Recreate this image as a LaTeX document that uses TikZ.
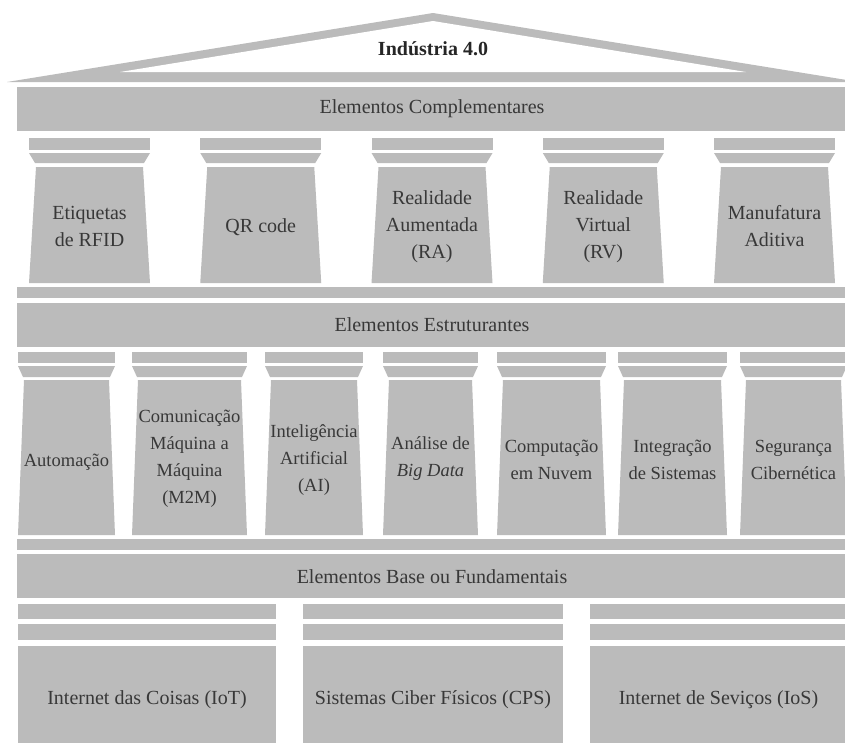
\documentclass[tikz,border=0pt]{standalone}
\usepackage{fontspec}
\setmainfont{Liberation Serif}
\definecolor{pil}{HTML}{BBBBBB}
\definecolor{ink}{HTML}{383838}
\begin{document}
\begin{tikzpicture}[x=1pt,y=-1pt,
  stone/.style={fill=pil},
  lbl/.style={text=ink, font=\fontsize{20}{27}\selectfont, align=center, inner sep=0pt},
  lblsm/.style={text=ink, font=\fontsize{18.5}{27}\selectfont, align=center, inner sep=0pt}]
\useasboundingbox (0,0) rectangle (845,742);
\clip (0,0) rectangle (845,742);
% roof
\fill[stone] (7,82) -- (433,13) -- (859,82) -- cycle;
\fill[white] (120,72) -- (433,21) -- (746,72) -- cycle;
\node[lbl, font=\bfseries\fontsize{20}{27}\selectfont, text=black!85] (title) at (433,49) {Indústria 4.0};
% top entablature
\fill[stone] (17,87) rectangle (847,131);
\node[lbl] (ec) at (432,109) {Elementos Complementares};
% top columns
\foreach \i in {0,...,4}{
  \pgfmathsetmacro{\xa}{29+171.25*\i}
  \pgfmathsetmacro{\xb}{\xa+121}
  \fill[stone] (\xa,138) rectangle (\xb,150);
  \fill[stone] (\xa,153) -- (\xb,153) -- (\xb-6,163) -- (\xa+6,163) -- cycle;
  \fill[stone] (\xa+7,167) -- (\xb-7,167) -- (\xb,283) -- (\xa,283) -- cycle;
}
\node[lbl] (c1) at (89.5,226.5) {Etiquetas\\de RFID};
\node[lbl] (c2) at (260.75,227) {QR code};
\node[lbl] (c3) at (432,227) {Realidade\\Aumentada\\(RA)};
\node[lbl] (c4) at (603.25,227) {Realidade\\Virtual\\(RV)};
\node[lbl] (c5) at (774.5,226.5) {Manufatura\\Aditiva};
% middle entablature
\fill[stone] (17,287) rectangle (847,298);
\fill[stone] (17,303) rectangle (847,347);
\node[lbl] (es) at (432,325) {Elementos Estruturantes};
% middle columns
\foreach \xa/\xb in {18/115,132/247,265/363,383/478,497/606,618/727,740/847}{
  \fill[stone] (\xa,352) rectangle (\xb,363);
  \fill[stone] (\xa,366) -- (\xb,366) -- (\xb-5,377) -- (\xa+5,377) -- cycle;
  \fill[stone] (\xa+6,380) -- (\xb-6,380) -- (\xb,535) -- (\xa,535) -- cycle;
}
\node[lblsm] (m1) at (66.5,462) {Automação};
\node[lblsm] (m2) at (189.5,458.5) {Comunicação\\Máquina a\\Máquina\\(M2M)};
\node[lblsm] (m3) at (314,460) {Inteligência\\Artificial\\(AI)};
\node[lblsm] (m4) at (430.5,458.5) {Análise de\\\textit{Big Data}};
\node[lblsm] (m5) at (551.5,459.5) {Computação\\em Nuvem};
\node[lblsm] (m6) at (672.5,459.5) {Integração\\de Sistemas};
\node[lblsm] (m7) at (793.5,459.5) {Segurança\\Cibernética};
% base entablature
\fill[stone] (17,539) rectangle (847,550);
\fill[stone] (17,554) rectangle (847,598);
\node[lbl] (eb) at (432,577) {Elementos Base ou Fundamentais};
% base blocks
\foreach \xa/\xb in {18/276,303/563,590/847}{
  \fill[stone] (\xa,604) rectangle (\xb,619);
  \fill[stone] (\xa,624) rectangle (\xb,640);
  \fill[stone] (\xa,646) rectangle (\xb,745);
}
\node[lbl] (b1) at (147,700) {Internet das Coisas (IoT)};
\node[lbl] (b2) at (433,700) {Sistemas Ciber Físicos (CPS)};
\node[lbl] (b3) at (718.5,700) {Internet de Seviços (IoS)};
\end{tikzpicture}
\end{document}
